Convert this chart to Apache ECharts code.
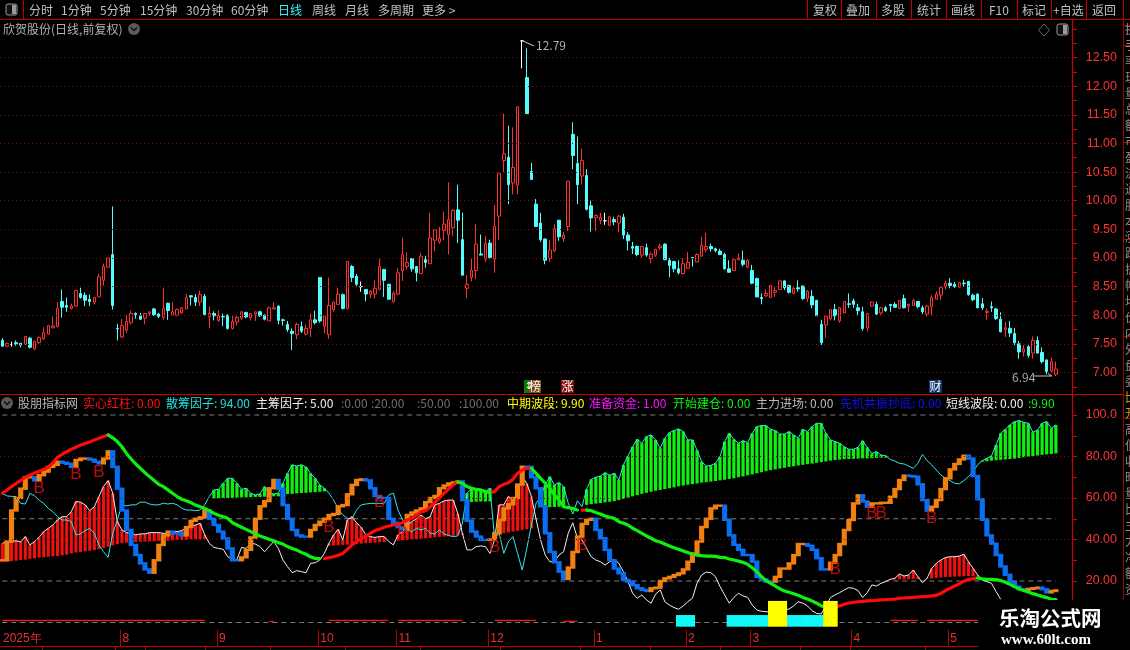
<!DOCTYPE html>
<html><head><meta charset="utf-8">
<style>html,body{margin:0;padding:0;background:#000}#c{width:1130px;height:650px}</style>
<script src="https://cdn.jsdelivr.net/npm/echarts@6/dist/echarts.min.js"></script>
</head><body><div id="c"></div>
<script>
// open, close, low, high
const candles=[
[7.56,7.46,7.45,7.60],[7.46,7.51,7.44,7.52],[7.49,7.49,7.45,7.54],[7.52,7.50,7.47,7.56],[7.51,7.48,7.44,7.51],[7.49,7.63,7.48,7.63],[7.60,7.44,7.42,7.62],[7.41,7.54,7.39,7.56],[7.52,7.61,7.50,7.63],[7.59,7.70,7.57,7.79],
[7.67,7.82,7.66,7.82],[7.78,7.81,7.78,7.98],[7.80,8.12,7.79,8.23],[8.24,8.14,7.96,8.45],[8.17,8.14,8.06,8.31],[8.12,8.16,8.10,8.20],[8.16,8.43,8.15,8.44],[8.38,8.31,8.29,8.48],[8.35,8.26,8.16,8.40],[8.28,8.24,8.16,8.36],
[8.23,8.31,8.19,8.32],[8.32,8.67,8.32,8.72],[8.61,8.85,8.52,8.90],[8.84,9.00,8.84,9.00],[9.06,8.17,8.10,9.90],[7.77,7.76,7.56,7.85],[7.62,7.82,7.60,7.94],[7.74,7.89,7.69,8.00],[7.87,8.03,7.84,8.08],[8.03,8.01,7.94,8.05],
[7.99,7.93,7.92,8.04],[7.95,8.03,7.84,8.03],[8.03,8.06,7.99,8.06],[8.11,8.01,7.99,8.13],[8.02,7.98,7.95,8.04],[7.96,8.12,7.92,8.48],[8.21,8.08,7.92,8.22],[8.00,8.06,8.00,8.23],[8.00,8.10,7.98,8.12],[8.04,8.13,8.03,8.14],
[8.11,8.31,8.11,8.37],[8.34,8.32,8.17,8.35],[8.31,8.23,8.16,8.37],[8.23,8.36,8.16,8.43],[8.33,8.01,8.00,8.37],[7.97,8.03,7.77,8.15],[8.03,7.99,7.91,8.07],[7.91,7.99,7.88,8.09],[7.98,7.97,7.81,8.03],[8.00,7.77,7.75,8.02],
[7.77,7.89,7.75,8.00],[7.88,7.96,7.82,8.01],[7.95,8.06,7.92,8.07],[8.05,7.97,7.95,8.06],[7.96,8.03,7.91,8.04],[8.02,8.06,7.90,8.06],[8.06,7.99,7.97,8.08],[8.00,7.93,7.91,8.02],[7.90,8.13,7.90,8.15],[8.11,8.13,8.11,8.23],
[8.16,7.91,7.84,8.17],[7.92,7.91,7.82,7.94],[7.84,7.75,7.71,7.90],[7.72,7.68,7.39,7.77],[7.66,7.84,7.58,7.87],[7.80,7.72,7.69,7.89],[7.67,7.77,7.65,7.84],[7.77,7.92,7.62,8.03],[7.92,7.87,7.84,8.08],[8.66,7.90,7.87,8.66],
[7.81,7.99,7.68,8.00],[7.66,8.17,7.59,8.66],[8.10,8.23,8.06,8.24],[8.19,8.37,8.19,8.48],[8.36,8.12,8.10,8.38],[8.12,8.94,8.10,8.94],[8.85,8.66,8.58,8.88],[8.68,8.54,8.49,8.72],[8.50,8.50,8.41,8.59],[8.45,8.37,8.24,8.45],
[8.37,8.42,8.30,8.44],[8.37,8.47,8.29,8.61],[8.45,8.85,8.45,8.99],[8.80,8.61,8.32,8.80],[8.54,8.28,8.28,8.55],[8.24,8.38,8.22,8.42],[8.37,8.74,8.35,8.83],[8.78,9.06,8.60,9.35],[8.85,8.92,8.80,9.10],[8.99,8.81,8.76,9.00],
[8.85,8.74,8.59,8.85],[8.73,9.03,8.73,9.09],[8.97,8.92,8.83,9.04],[8.90,9.35,8.90,9.79],[9.31,9.49,9.12,9.49],[9.28,9.34,9.25,9.54],[9.48,9.59,9.31,9.81],[9.41,9.67,9.06,10.32],[9.53,9.83,9.38,9.85],[9.84,9.66,9.26,10.28],
[9.32,8.70,8.70,9.79],[8.47,8.54,8.30,8.70],[8.66,8.78,8.59,8.99],[8.78,9.24,8.63,9.59],[9.07,9.05,9.05,9.41],[8.98,9.25,8.93,9.38],[9.26,9.01,8.99,9.32],[8.98,9.55,8.74,9.92],[9.73,10.48,9.32,10.48],[10.70,10.82,10.50,11.52],
[10.76,10.28,9.94,11.31],[10.31,10.58,10.11,11.28],[10.27,11.64,10.11,11.64],[12.79,12.79,12.31,12.79],[12.15,11.52,11.52,12.66],[10.51,10.37,10.37,10.66],[9.94,9.55,9.54,10.03],[9.61,9.32,9.28,9.79],[9.33,8.96,8.89,9.34],[8.99,9.14,8.93,9.31],
[9.13,9.51,9.10,9.59],[9.66,9.37,9.30,9.66],[9.34,9.40,9.28,9.45],[9.55,10.34,9.47,10.34],[11.16,10.79,10.55,11.37],[10.65,10.28,9.94,11.12],[10.43,10.70,10.28,10.91],[10.44,9.85,9.83,10.55],[9.91,9.70,9.46,10.00],[9.70,9.74,9.47,9.76],
[9.66,9.71,9.59,9.79],[9.65,9.65,9.58,9.79],[9.57,9.72,9.56,9.72],[9.67,9.63,9.57,9.72],[9.61,9.73,9.45,9.75],[9.71,9.40,9.33,9.77],[9.40,9.30,9.13,9.45],[9.20,9.17,9.07,9.28],[9.20,9.06,9.03,9.22],[9.05,9.20,9.00,9.20],
[9.18,9.05,9.02,9.25],[8.99,9.07,8.91,9.10],[9.05,9.15,9.02,9.16],[9.18,9.21,9.14,9.25],[9.24,8.97,8.96,9.26],[8.96,8.87,8.66,9.00],[8.94,8.81,8.75,8.94],[8.81,8.74,8.71,8.96],[8.73,8.90,8.71,9.00],[8.82,8.92,8.81,9.10],
[9.01,9.00,8.85,9.01],[8.93,9.06,8.93,9.08],[9.03,9.22,9.03,9.37],[9.15,9.20,9.10,9.44],[9.20,9.16,9.11,9.25],[9.16,9.13,9.10,9.18],[9.12,9.06,9.05,9.16],[9.06,8.81,8.80,9.09],[8.81,8.75,8.75,8.96],[8.78,8.97,8.77,8.99],
[8.97,9.00,8.96,9.08],[8.96,8.89,8.85,9.13],[8.84,8.96,8.82,8.98],[8.78,8.56,8.54,8.88],[8.64,8.32,8.32,8.66],[8.31,8.29,8.19,8.38],[8.34,8.38,8.32,8.45],[8.31,8.52,8.31,8.52],[8.40,8.43,8.32,8.50],[8.45,8.60,8.44,8.60],
[8.60,8.48,8.44,8.61],[8.52,8.40,8.38,8.53],[8.38,8.47,8.37,8.50],[8.48,8.46,8.41,8.61],[8.51,8.29,8.27,8.52],[8.29,8.42,8.23,8.44],[8.33,8.18,8.12,8.44],[8.26,7.99,7.99,8.27],[7.84,7.52,7.48,7.92],[7.83,7.98,7.61,7.99],
[7.94,8.10,7.91,8.10],[8.10,7.99,7.91,8.20],[7.90,8.13,7.87,8.15],[8.04,8.24,8.04,8.24],[8.20,8.19,8.13,8.38],[8.25,8.19,8.13,8.29],[8.13,8.08,8.00,8.20],[8.06,7.77,7.73,8.15],[7.78,8.03,7.72,8.04],[8.16,8.23,8.15,8.24],
[8.19,8.02,8.00,8.24],[8.04,8.13,8.01,8.15],[8.13,8.08,8.06,8.16],[8.19,8.17,8.06,8.19],[8.19,8.14,8.13,8.23],[8.12,8.26,8.11,8.27],[8.29,8.13,8.12,8.36],[8.16,8.19,8.06,8.20],[8.17,8.26,8.16,8.29],[8.24,8.15,8.12,8.25],
[8.13,8.06,8.02,8.17],[8.02,8.16,7.98,8.18],[8.15,8.31,8.00,8.35],[8.28,8.37,8.28,8.42],[8.35,8.49,8.27,8.51],[8.50,8.56,8.45,8.61],[8.56,8.52,8.47,8.65],[8.54,8.50,8.48,8.58],[8.49,8.57,8.48,8.58],[8.56,8.55,8.50,8.62],
[8.59,8.36,8.34,8.60],[8.35,8.27,8.25,8.38],[8.37,8.13,8.12,8.38],[8.20,8.13,8.09,8.30],[8.05,8.07,7.92,8.12],[8.15,8.13,8.06,8.24],[8.11,7.94,7.92,8.13],[7.93,7.71,7.70,8.05],[7.75,7.78,7.62,7.88],[7.77,7.69,7.62,7.90],
[7.68,7.52,7.48,7.78],[7.50,7.36,7.24,7.55],[7.36,7.41,7.28,7.48],[7.45,7.30,7.26,7.49],[7.34,7.56,7.24,7.63],[7.56,7.34,7.33,7.63],[7.35,7.19,7.16,7.44],[7.22,7.02,6.97,7.23],[7.03,7.19,7.00,7.26],[6.97,7.06,6.94,7.19]
];
const waveBand=[
30,39,54,60,64.5,70,70,68.5,71,72.7, 75,76,77.5,77,76.5,75,78.3,79,79,78.5,
77.5,76.7,79,82.5,75,64.5,54,44.6,37.4,32.5, 28.5,25.6,24,30,37.4,42,43.8,43,43,42,
46,49,50,50.7,54,50,47,43.8,40.5,35.7, 30,30,31.4,35,41,50,56,58.5,64.7,68.7,
64.5,56.6,50,44.6,42,41.4,41.4,44.6,47,48.6, 50,51.8,52.3,56,56.6,61.8,66.3,68.7,69,68.5,
64.7,61,60,60,50,48,46,45,51.8,53, 54,55,58,60,61,64.7,66,67,67.5,68,
59,49,43.8,41.4,39.8,39.8,40,43,49.4,55, 57,60,66.5,75.1,75,70,64.7,56,43,34,
29,24.5,21,26.5,34,41.4,47.5,49.5,50,44.6, 40.6,35,30,26,23.7,20.5,19.7,18,16.5,15.7,
15.2,16.5,16.8,20,21.3,22,22.9,23.7,25.6,29.3, 33.3,39,46,50,55,56.3,56.3,49.5,42,37.4,
35,32.5,32.5,29.3,22,20.8,19.7,19.7,22,26, 26,28.5,32.5,37.8,37.8,37,35,31,25.6,25.6,
28.8,32.5,37.8,44.6,49.4,57.4,61.3,58.3,55.8,57.4, 57.4,57.7,57.7,60.6,64.3,68.7,70.8,70.6,70.3,66.6,
59,53.9,55.8,59,64.3,69.5,73.8,76.4,78.6,80.4, 79,70.6,59.4,49.5,42,38,32.5,27,23,19.7,
17.3,16,15.7,16.2,16.5,16.8,16,14.5,15.2,15.5
];
const trendLine=[
62.3,63.8,65.5,67,68.5,70,71,72,72.9,73.8, 74.8,77,79.6,81,82.3,83.5,84.5,85.5,86.3,87,
88,88.8,89.6,90.4,89,87.2,84.7,81.5,78.8,76.4, 74.3,72.2,70.3,68.4,66.6,65.5,63.9,62.3,60.7,59.4,
58.7,57.8,56.6,55.8,55,53.9,52.6,51.7,51,50.2, 48.1,47,45.9,44.9,43.8,42.7,41.7,41,40.1,39.4,
38.5,37.8,36.6,35.7,34.9,33.8,32.9,31.7,30.9,30.8, 30.8,31.3,31.7,32.4,33.3,35.3,37.4,39,40.6,41.7,
43,44.3,45,45.9,46.5,47,47.5,48.1,49.4,50.2, 51.8,53.4,53.9,55.8,57.8,59.9,62.3,64.3,66.3,67.6,
67.1,65.5,64.7,64.2,63.9,63.1,62.6,63.1,65.5,66.6, 67.4,69,71.9,73.5,74.3,74.3,71.9,69.5,67.1,64.7,
61.5,59,55.8,55.4,54.9,54.2,54.2,54.2,53.9,53, 52.3,51.3,50.7,50.2,48.6,47.8,47,45.4,44.3,43,
41.7,40.6,39.4,38.8,37.8,36.9,36,35.3,34.5,33.7, 32.9,32.5,32.2,32,32,31.9,31.4,31.3,30.6,30.1,
29.6,29,28,26.4,24.5,22.1,20.2,18.9,17.6,16.2, 15.2,14.6,13.9,13.1,12.1,11.3,10.4,9.3,8,7.5,
7.4,7.6,8,8.8,9.4,9.7,10,10.2,10.4,10.5, 10.7,10.9,11,11.2,11.3,11.7,11.8,12,12.1,12.3,
12.5,12.6,12.8,13.1,14,15.4,16.5,17.6,18.6,19.9, 20.8,21.1,21.5,21,20.8,20.8,20.7,20.2,19.4,18.4,
17.3,16.2,15.4,14.7,13.9,13.3,12.6,12,11.2,11
];
const whiteLine=[
38.2,38.8,39.1,39.4,38.8,41.4,37.4,39,41,43.8, 45.4,47,49.4,51,51,53.4,58.3,58,56.7,53.9,
55.8,60.7,65.5,68.4,62.3,48.6,44.6,43.3,43,42.2, 42.7,42.7,43.3,43.3,43.3,43,42.7,43.8,43.8,44.3,
45.4,46.5,47,47.8,42.2,38.2,36.2,35.7,35.3,31.7, 30.4,30.4,36.2,35.7,38.2,37.8,36.6,34.1,36.6,39,
35.7,30.1,26.9,24,25,24.5,24,28.5,28.8,30.1, 33.3,38.2,42.2,44.9,39.8,49.4,51,48,45.9,42.2,
41.4,41,41.4,41.4,39,37.4,42.2,43.8,46.5,48.6, 50,51.8,50,51,56.7,57.4,58.6,59,59,52.6,
43,35,35,36.6,36.9,36.6,33.3,39.8,56.7,56.7, 60.7,59,62.3,70.3,67,60.7,50,39.8,32.5,29.3,
29.3,32.5,34.1,43,48.1,40.6,39.8,35.7,31.7,30.1, 29.3,27.7,29.3,30.4,28.5,24.5,19.7,14.1,11.7,13.3,
10.9,9.3,13.7,15.7,10,8.4,7.2,6.4,8,10, 11.7,18.9,22.9,24.3,24,22.1,17.3,13.3,9.3,12.1,
14.1,12.8,12.1,8.4,6,5.4,5.2,5.2,5.5,6, 6,6.5,8,10,9.3,8,5.7,4.4,4.1,8,
12,13.3,14.4,15.7,16.8,16.5,15.4,12,14.4,18.1, 17.6,18.9,19.7,20.8,21.3,23.4,22.4,22.9,25.3,22.1,
19.2,21.3,26.1,28.5,30.1,31.3,31.7,31.7,32,32.9, 29.3,26.1,22.9,20.5,19.7,18.9,14.9,11.2
];
const cyanLine=[
62.3,61,60.8,60.7,57.4,57.1,62.3,61,59,57.4, 55,53.4,51,49.4,49.4,48.6,42.2,42.7,44.3,45.4,
43,37.4,34.1,31.4,43,49.4,56.7,56.2,56.7,56.7, 58,58,57.1,56.7,56.7,57.5,57.1,57.5,56.7,55,
54.2,54.2,53.9,54.2,56.7,60.7,63.9,64.2,67.1,69.5, 69.5,67.1,64.2,64.7,62.3,61.5,62,65.5,62.3,62,
62.3,67.1,71.9,76,75.4,76,75,71.9,69.5,66.3, 64.7,62.3,59,55,51.8,50.2,50,54.2,56.7,57.1,
57.4,57.4,57.4,57.4,61.5,62.3,54.2,49.4,44.6,43.8, 45.4,44.6,45.4,43,42.7,44.6,42.7,41.9,41.4,41.7,
47.8,62.3,64.7,64.2,63.9,63.1,64.7,40.6,43,33.3, 39,41.4,33.3,25.3,35.7,47,57.4,60.7,66.3,70.3,
66.3,67.4,65.5,57.5,52.3,58.7,55.8,64.2,69,70, 70.6,72.2,71,71.9,68.7,76,80.3,84.7,88.3,86.4,
89.6,90.4,88,84,88.8,91.5,92.5,93.3,92,88, 88,83.1,77.5,75.4,75.7,76.7,80,87.2,91.2,88.3,
86.4,87.6,86.7,91.2,94.4,94.9,94.9,93.1,92.5,90.8, 90.8,92,90.4,88.8,93.1,92,94.4,96,96,91.2,
88,87.2,86.4,84.7,83.5,83.5,84.4,87.6,84.4,81.5, 82.3,80.7,80.4,78.6,77.8,76.7,76.4,75.4,74.3,76.7,
81,78,76,73.5,71.1,69.5,68.4,67.1,66.8,68.4, 70.3,72.7,76,78,79.1,80.3,85.6,91.2,93.1,95.2,
96.8,97.3,96.5,96,91.7,92.8,96,96.8,93.6,95.2
];
// red sticks rise from their base to the white line, green sticks to the cyan line
const redSticks=[
{from:0,base:[29.3,29.5,29.6,29.8,30.1,30.3,30.6,30.9,31.3,31.4,31.7,31.9,32,32.4,32.7,33.3,33.7,34,34.3,34.6,34.9,35.4,35.9,36.6,37.2,37.8,38.2,38.5,38.6,38.8,39,39,39.1,39.1,39.3,39.4,39.4,39.6,39.8,39.8,39.9,40.1,40.1,40.2,40.2]},
{from:71,base:[36.9,37.1,37.2,37.4,37.5,37.7,37.8,38,38.2,38.3,38.5,38.7,38.8,39]},
{from:86,base:[39.4,39.6,39.8,40,40.2,40.4,40.6,40.8,41,41.2,41.4,41.6,41.8,42,42.2]},
{from:107,base:[42.2,42.6,43,43.4,43.8,44.2,44.6,45,45.4]},
{from:193,base:[20.6,20.7,20.8,20.8,20.8,20.9,20.9]},
{from:201,base:[20.9,21.2,21.5,21.7,21.9,22,22.1,22.2,22.3,22.4,22.4,22.5]}
];
const greenSticks=[
{from:46,base:[59.8,59.9,60,60,60.1,60.2,60.3,60.3,60.4,60.5,60.5,60.6,60.7,60.8,60.8]},
{from:61,base:[61.7,61.9,62,62.2,62.4,62.5,62.7,62.8,63,63.2]},
{from:101,base:[58,58.1,58.2,58.3,58.3,58.4]},
{from:118,base:[55.5,55.6,55.7,55.8,55.8]},
{from:127,base:[56.7,57,57.3,57.6,57.9,58.2,58.5,59,59.6,60.2,60.8,61.4,62,62.5,63,63.5,63.9,64.3,64.7,65.1,65.6,66,66.4,66.7,67,67.4,67.6,67.9,68.2,68.5,68.8,69.2,69.5,70,70.4,70.9,71.4,71.9,72.4,72.9,73.4,73.8,74.2,74.6,75,75.3,75.7,76,76.3,76.6,77,77.3,77.6,78,78.3,78.5,78.7,78.8,78.9,79,79.1,79.1,79.2,79.3,79.4,79.5]},
{from:213,base:[77.5,77.7,78,78.2,78.4,78.6,78.8,79,79.3,79.6,79.9,80.2,80.5,80.8,81,81.2,81.5]}
];
const buyMarks=[[8,64.8],[16,71.6],[21,72.5],[71,46],[82,58],[87,43],[91,48],[107,36.4],[126,37.4],[181,25.8],[189,52.8],[191,52.8],[202,50.4]];
const redFlagRuns=[[0,44,1],[58,59,0.5],[71,84,1],[86,100,1],[107,116,1],[122,125,0.5],[193,199,1],[201,212,1]];
const cyanBars=[147,148,149,150,158,159,160,161,162,163,164,165,166,171,172,173,174,175,176,177,178];
const yellowBars=[167,168,169,170,179,180,181];
const cyanBarTop=3.6, yellowBarTop=10.4, barFloor=-2;
const dashedLevels=[0,20,50,100];
const priceGrid=[7,7.5,8,8.5,9,9.5,10,10.5,11,11.5,12,12.5];
const priceTicks=[6.75,7,7.25,7.5,7.75,8,8.25,8.5,8.75,9,9.25,9.5,9.75,10,10.25,10.5,10.75,11,11.25,11.5,11.75,12,12.25,12.5,12.75,13];
const lowerGrid=[40,60,80];
const lowerLabels=[20,40,60,80,100];
const lowerTicks=[0,10,20,30,40,50,60,70,80,90,100];
const monthStarts={0:'2025年',26:'8',47:'9',69:'10',86:'11',106:'12',129:'1',149:'2',163:'3',185:'4',206:'5'};
const slotCount=233;
const categories=[];for(let i=0;i<slotCount;i++)categories.push(monthStarts[i]||'');
const toolbarLeft=[[29,'分时','#c0c0c0'],[61,'1分钟','#c0c0c0'],[100,'5分钟','#c0c0c0'],[140,'15分钟','#c0c0c0'],[186,'30分钟','#c0c0c0'],[231,'60分钟','#c0c0c0'],[278,'日线','#40f0f0'],[312,'周线','#c0c0c0'],[345,'月线','#c0c0c0'],[378,'多周期','#c0c0c0'],[422,'更多 >','#c0c0c0']];
const toolbarRight=[[813,'复权'],[846,'叠加'],[881,'多股'],[917,'统计'],[951,'画线'],[989,'F10'],[1022,'标记'],[1053,'+自选'],[1092,'返回']];
const toolbarSeps=[807,841,876,911,946,981,1017,1051,1086,1123];
const legendTexts=[[18,'股朋指标网','#b8b8b8'],[83,'实心红柱: 0.00','#ff1010'],[166,'散筹因子: 94.00','#20e0e0'],[256,'主筹因子: 5.00','#f0f0f0'],[341,':0.00','#707070'],[371,':20.00','#707070'],[417,':50.00','#707070'],[459,':100.00','#707070'],[507,'中期波段: 9.90','#ffff00'],[589,'准备资金: 1.00','#ff10ff'],[673,'开始建仓: 0.00','#10f010'],[756,'主力进场: 0.00','#b8b8b8'],[840,'先机共振抄底: 0.00','#1010f0'],[946,'短线波段: 0.00','#f0f0f0'],[1028,':9.90','#10f010']];
const sideGlyphs=['换','手','率','现','量','总','额','市','盈','流','通','股','本','涨','跌','振','幅','均','价','内','外','盘','委','比','开','高','低','收','昨','量','比','主','力','净','额','资','金'];

const RED='#ff3232',AX='#b40a0a',DOT='#7a0c0c',G='#808080';
const rectSeries=(name,data,color,frac,grid,z,minH)=>({name,type:'custom',xAxisIndex:grid,yAxisIndex:grid,z,silent:true,data,encode:{x:0,y:[1,2]},
 renderItem:(p,api)=>{const a=api.coord([api.value(0),api.value(1)]),b=api.coord([api.value(0),api.value(2)]),w=api.size([1,0])[0]*frac;
  let top=b[1],h=a[1]-b[1];if(minH){top-=minH/2;h+=minH;}
  return{type:'rect',shape:{x:a[0]-w/2,y:top,width:w,height:h},style:{fill:(color===null?['#f08010','#0a6ef0'][api.value(3)]:color)}};}});
const stickData=(groups,top)=>{const o=[];groups.forEach(g=>g.base.forEach((b,k)=>{const i=g.from+k;if(top[i]!=null&&top[i]>b)o.push([i,b,top[i]]);}));return o;};
let dir=0;const waveData=waveBand.map((v,i)=>{const p=i?waveBand[i-1]:v;if(v>p)dir=0;else if(v<p)dir=1;return[i,Math.min(p,v),Math.max(p,v),dir];});
const upRun=trendLine.map((v,i)=>(i&&v>=trendLine[i-1])||(trendLine[i+1]>v)?v:null);
const downRun=trendLine.map((v,i)=>(i&&v<trendLine[i-1])||(trendLine[i+1]<v)?v:null);
const flagData=new Array(230).fill(null);redFlagRuns.forEach(r=>{for(let i=r[0];i<=r[1];i++)flagData[i]=r[2];});
const dotted=levels=>({silent:true,symbol:'none',label:{show:false},lineStyle:{color:DOT,type:[1,3],width:1},data:levels.map(v=>({yAxis:v}))});
const T=(x,y,text,fill,font,align)=>({type:'text',x,y,z:50,style:{text,fill,font:font||'12px "Noto Sans CJK SC"',textVerticalAlign:'middle',textAlign:align||'left'}});
const L=(x1,y1,x2,y2,stroke,w)=>({type:'line',z:40,shape:{x1,y1,x2,y2},style:{stroke,lineWidth:w||1}});
const graphics=[];
// toolbar
graphics.push(L(0,19.5,1130,19.5,'#c00000'),L(0,394.5,1123,394.5,'#d00000',1.2),L(23.5,0,23.5,19,'#c00000'),L(1072.5,20,1072.5,600,AX,1.4),L(1123.5,20,1123.5,650,'#a00000',1));
graphics.push({type:'rect',z:50,shape:{x:6,y:4,width:11,height:11,r:2},style:{fill:'#111',stroke:'#999'}},{type:'rect',z:51,shape:{x:12,y:5,width:4,height:9},style:{fill:'#999'}});
toolbarLeft.forEach(t=>graphics.push(T(t[0],10,t[1],t[2])));
toolbarRight.forEach(t=>graphics.push(T(t[0],10,t[1],'#c0c0c0')));
toolbarSeps.forEach(x=>graphics.push(L(x+.5,0,x+.5,19,'#c00000')));
graphics.push(T(3,29,'欣贺股份(日线,前复权)','#b0b0b0'));
const chevron=(cx,cy)=>[{type:'circle',z:50,shape:{cx,cy,r:6},style:{fill:'#5a5a5a'}},{type:'polyline',z:51,shape:{points:[[cx-3,cy-1.5],[cx,cy+1.5],[cx+3,cy-1.5]]},style:{stroke:'#111',fill:'none',lineWidth:1.5}}];
graphics.push(...chevron(134,29),...chevron(7,403));
graphics.push({type:'polygon',z:50,shape:{points:[[1044,24],[1049.5,30],[1044,36],[1038.5,30]]},style:{fill:'none',stroke:'#666'}});
graphics.push({type:'rect',z:50,shape:{x:1057,y:24,width:11,height:11,r:2},style:{fill:'#111',stroke:'#999'}},{type:'rect',z:51,shape:{x:1063,y:25,width:4,height:9},style:{fill:'#999'}});
legendTexts.forEach(t=>graphics.push(T(t[0],403,t[1],t[2])));
// high / low notes
graphics.push(L(523,41,534,46,'#d0d0d0'),T(536,45.5,'12.79','#b0b0b0'));
graphics.push(T(1012,377,'6.94','#a8a8a8'),L(1034,376,1052,376,'#c0c0c0'),L(1052,376,1048,373.5,'#c0c0c0'));
// badges
graphics.push({type:'rect',z:45,shape:{x:524,y:380,width:5,height:13},style:{fill:'#0a7a0a'}},{type:'rect',z:45,shape:{x:529,y:380,width:12,height:13},style:{fill:'#7a4a10'}},T(529,386.5,'榜','#fff'),T(524.5,386.5,'↕','#fff','10px "DejaVu Sans"'));
graphics.push({type:'rect',z:45,shape:{x:561,y:380,width:13,height:13},style:{fill:'#8a0a0a'}},T(561.5,386.5,'涨','#fff'));
graphics.push({type:'rect',z:45,shape:{x:929,y:380,width:13,height:13},style:{fill:'#103a70'}},T(929.5,386.5,'财','#fff'));
// right-hand clipped column
sideGlyphs.forEach((c,k)=>{const y=29+k*16;if(y<600)graphics.push(T(1125,y,c,(y>396&&y<416)?'#b0a020':'#909090'));});
[25,45,142,239,336,395,418].forEach(y=>graphics.push(L(1124,y+.5,1130,y+.5,'#c00000')));
// strip under the time axis
graphics.push(L(0,646.5,980,646.5,'#c00000'));
[42,115,145,205,270,345,420,500,580,650,720,800,850,925].forEach(x=>graphics.push(L(x+.5,647,x+.5,650,'#c00000')));
// watermark panel
graphics.push({type:'rect',z:60,shape:{x:978,y:600,width:152,height:50},style:{fill:'#000'}});
graphics.push({type:'text',x:999,y:618,z:61,style:{text:'乐淘公式网',fill:'#fff',font:'bold 20.5px "Noto Sans CJK SC"',textVerticalAlign:'middle',shadowBlur:2,shadowColor:'#6090d0'}});
graphics.push({type:'text',x:1001,y:640,z:61,style:{text:'www.60lt.com',fill:'#fff',font:'bold 15px "Liberation Serif"',textVerticalAlign:'middle',shadowBlur:2,shadowColor:'#4080e0'}});

const hiddenX=g=>({type:'category',gridIndex:g,data:categories,boundaryGap:true,axisLine:{show:false},axisTick:{show:false},axisLabel:{show:false},splitLine:{show:false}});
const isMonth=i=>monthStarts[i]!==undefined;
const option={animation:false,backgroundColor:'#000',graphic:graphics,
grid:[{left:0,top:20,width:1072,height:374},{left:0,top:395,width:1072,height:235},{left:0,top:630,width:1072,height:16}],
xAxis:[hiddenX(0),hiddenX(1),{type:'category',gridIndex:2,position:'top',data:categories,boundaryGap:true,
 axisLine:{lineStyle:{color:'#c00000',width:1}},
 axisTick:{inside:true,length:3,lineStyle:{color:'#c00000'},interval:(i)=>i%5===0},
 splitLine:{show:true,interval:(i)=>isMonth(i)&&i>0,lineStyle:{color:'#c00000',width:1}},
 axisLabel:{inside:true,interval:(i,v)=>v!=='',align:'left',margin:3,verticalAlign:'top',color:'#e83030',fontSize:12,fontFamily:'Liberation Sans',hideOverlap:false}}],
yAxis:[
 {type:'value',gridIndex:0,position:'right',min:6.625,max:13.155,scale:true,axisLine:{show:false},splitLine:{show:false},
  axisTick:{show:true,length:5,customValues:priceTicks,lineStyle:{color:AX}},
  axisLabel:{customValues:priceGrid,formatter:v=>v.toFixed(2),color:RED,fontSize:12.5,fontFamily:'Liberation Sans',align:'right',margin:45}},
 {type:'value',gridIndex:1,position:'right',min:-3.61,max:109.64,axisLine:{show:false},splitLine:{show:false},
  axisTick:{show:true,length:5,customValues:lowerTicks,lineStyle:{color:AX}},
  axisLabel:{customValues:lowerLabels,formatter:v=>v===100?'100.0':v.toFixed(2),color:RED,fontSize:12.5,fontFamily:'Liberation Sans',align:'right',margin:45}},
 {type:'value',gridIndex:2,min:0,max:1,show:false}],
series:[
 {name:'K线',type:'candlestick',xAxisIndex:0,yAxisIndex:0,barWidth:3,data:candles,silent:true,
  itemStyle:{color:'#000',color0:'#54fcfc',borderColor:'#ff3232',borderColor0:'#54fcfc',borderColorDoji:'#ffffff',borderWidth:1},
  markLine:dotted(priceGrid)},
 {name:'网格',type:'line',xAxisIndex:1,yAxisIndex:1,data:[],markLine:dotted(lowerGrid)},
 ...dashedLevels.map(v=>({name:'level'+v,type:'line',xAxisIndex:1,yAxisIndex:1,symbol:'none',silent:true,z:1,data:candles.map(()=>v),lineStyle:{color:G,width:1,type:[5,4]}})),
 {name:'实心红柱线',type:'line',xAxisIndex:1,yAxisIndex:1,symbol:'none',silent:true,z:2,data:flagData,lineStyle:{color:'#ff1010',width:1.2}},
 rectSeries('红柱',stickData(redSticks,whiteLine),'#f01010',0.68,1,2),
 rectSeries('绿柱',stickData(greenSticks,cyanLine),'#10f010',0.7,1,2),
 {name:'散筹因子',type:'line',xAxisIndex:1,yAxisIndex:1,symbol:'none',silent:true,z:3,data:cyanLine,lineStyle:{color:'#30e8e8',width:1}},
 {name:'主筹因子',type:'line',xAxisIndex:1,yAxisIndex:1,symbol:'none',silent:true,z:3,data:whiteLine,lineStyle:{color:'#f0f0f0',width:1}},
 rectSeries('中期波段',waveData,null,1.12,1,4,2.4),
 {name:'趋势升',type:'line',xAxisIndex:1,yAxisIndex:1,symbol:'none',silent:true,z:5,data:upRun,lineStyle:{color:'#ff0a0a',width:3.2,cap:'round'}},
 {name:'趋势降',type:'line',xAxisIndex:1,yAxisIndex:1,symbol:'none',silent:true,z:5,data:downRun,lineStyle:{color:'#10f010',width:3.2,cap:'round'}},
 {name:'B',type:'scatter',xAxisIndex:1,yAxisIndex:1,symbolSize:0,silent:true,z:6,data:buyMarks,label:{show:true,position:'inside',formatter:'B',color:'#e81010',fontSize:17,fontFamily:'Liberation Sans'}},
 rectSeries('青块',cyanBars.map(i=>[i,barFloor,cyanBarTop]),'#10f8f8',1.15,1,7),
 rectSeries('黄块',yellowBars.map(i=>[i,barFloor,yellowBarTop]),'#ffff00',1.15,1,8),
 {name:'时间轴',type:'line',xAxisIndex:2,yAxisIndex:2,data:[]}
]};
const chart=echarts.init(document.getElementById('c'),null,{renderer:'canvas'});
chart.setOption(option);
</script></body></html>
